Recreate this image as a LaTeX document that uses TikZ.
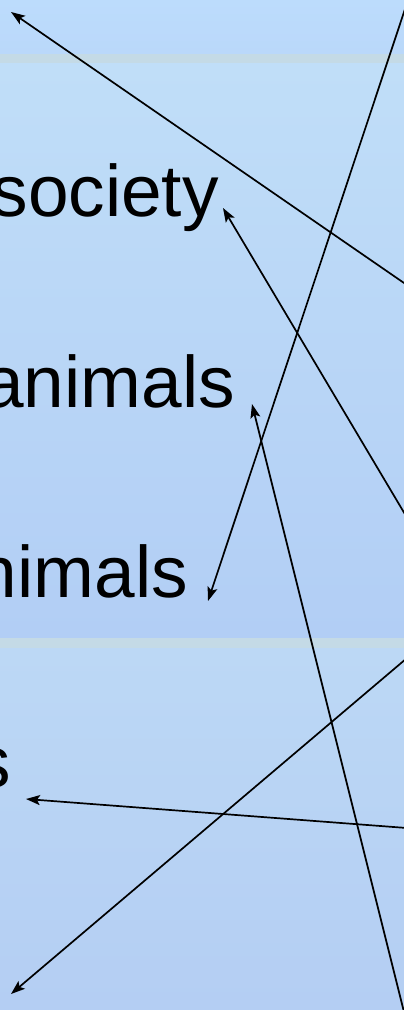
\documentclass[tikz,border=0pt]{standalone}
\usepackage{fontspec}
\setmainfont{Liberation Sans}
\usetikzlibrary{arrows.meta}
\definecolor{bgA}{RGB}{188,220,252}
\definecolor{bgB}{RGB}{186,216,250}
\definecolor{band}{RGB}{196,218,230}
\definecolor{bgC}{RGB}{192,222,248}
\definecolor{bgD}{RGB}{178,206,245}
\definecolor{bgE}{RGB}{188,216,245}
\definecolor{bgF}{RGB}{180,206,243}
\tikzset{
  word/.style={font=\fontsize{73}{87}\selectfont, inner sep=0pt, anchor=base east},
  link/.style={line width=1.7pt, -{Stealth[length=14pt,width=10pt,inset=3pt]}}
}
\begin{document}
\begin{tikzpicture}[x=1pt,y=-1pt]
\useasboundingbox (0,0) rectangle (404,1010);
\clip (0,0) rectangle (404,1010);
\shade[top color=bgA, bottom color=bgB] (0,0) rectangle (404,54);
\fill[band] (0,54) rectangle (404,63);
\shade[top color=bgC, bottom color=bgD] (0,63) rectangle (404,638);
\fill[band] (0,638) rectangle (404,648);
\shade[top color=bgE, bottom color=bgF] (0,648) rectangle (404,1010);

\node[word] (t1) at (219,216) {society};
\node[word] (t2) at (235,407) {animals};
\node[word] (t3) at (188,597) {nimals};
\node[word] (t4) at (11,787) {s};

\coordinate (a1) at (11,12);
\coordinate (a2) at (223,208);
\coordinate (a3) at (252,404);
\coordinate (a4) at (208,601);
\coordinate (a5) at (26,799);
\coordinate (a6) at (11,994);

\coordinate (s1) at (420,294);
\coordinate (s2) at (412,526);
\coordinate (s3) at (406,1020);
\coordinate (s4) at (410,-6);
\coordinate (s5) at (420,829);
\coordinate (s6) at (420,647);

\draw[link] (s1) -- (a1);
\draw[link] (s2) -- (a2);
\draw[link] (s3) -- (a3);
\draw[link] (s4) -- (a4);
\draw[link] (s5) -- (a5);
\draw[link] (s6) -- (a6);
\end{tikzpicture}
\end{document}
